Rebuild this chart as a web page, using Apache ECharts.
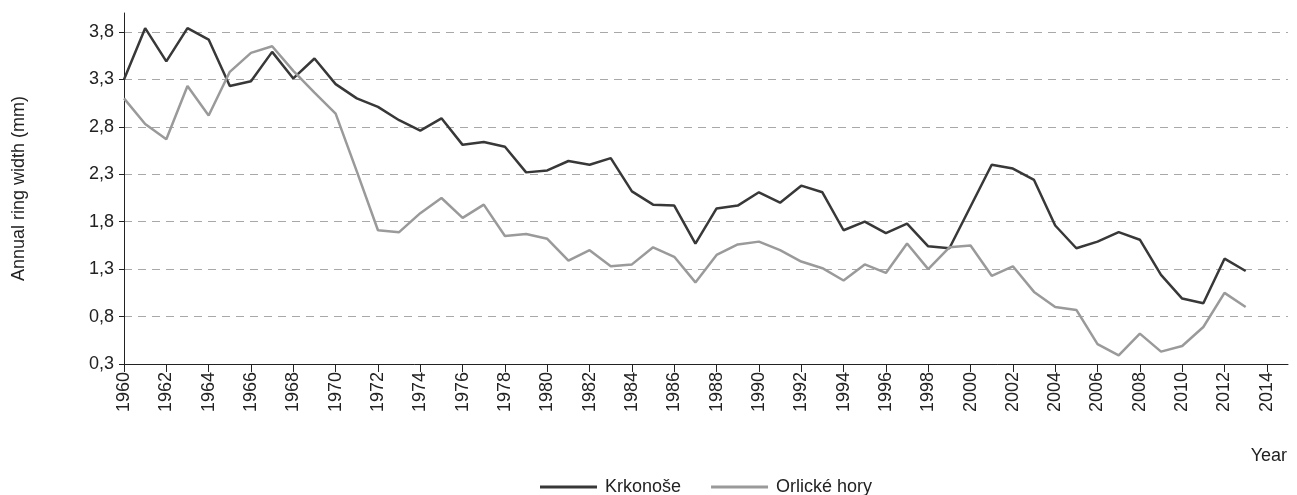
<!DOCTYPE html>
<html>
<head>
<meta charset="utf-8">
<script src="https://cdn.jsdelivr.net/npm/echarts@6/dist/echarts.min.js"></script>
<style>
html,body{margin:0;padding:0;background:#fff;}
#chart{width:1297px;height:495px;}
</style>
</head>
<body>
<div id="chart"></div>
<script>
const years = [];
for (let y = 1960; y <= 2013; y++) years.push(y);

const krkonose = [
  3.30, 3.84, 3.49, 3.84, 3.72, 3.23, 3.28, 3.59, 3.31, 3.52,
  3.25, 3.10, 3.01, 2.87, 2.76, 2.89, 2.61, 2.64, 2.59, 2.32,
  2.34, 2.44, 2.40, 2.47, 2.12, 1.98, 1.97, 1.57, 1.94, 1.97,
  2.11, 2.00, 2.18, 2.11, 1.71, 1.80, 1.68, 1.78, 1.54, 1.52,
  1.96, 2.40, 2.36, 2.24, 1.76, 1.52, 1.59, 1.69, 1.61, 1.24,
  0.99, 0.94, 1.41, 1.28
];
const orlicke = [
  3.10, 2.83, 2.67, 3.23, 2.92, 3.38, 3.58, 3.65, 3.39, 3.16,
  2.94, 2.33, 1.71, 1.69, 1.89, 2.05, 1.84, 1.98, 1.65, 1.67,
  1.62, 1.39, 1.50, 1.33, 1.35, 1.53, 1.43, 1.16, 1.45, 1.56,
  1.59, 1.50, 1.38, 1.31, 1.18, 1.35, 1.26, 1.57, 1.30, 1.53,
  1.55, 1.23, 1.33, 1.06, 0.90, 0.87, 0.51, 0.39, 0.62, 0.43,
  0.49, 0.69, 1.05, 0.90
];
const xTickYears = [];
for (let y = 1960; y <= 2014; y += 2) xTickYears.push(y);
const yTicks = [0.3, 0.8, 1.3, 1.8, 2.3, 2.8, 3.3, 3.8];

const seriesNames = ['Krkonoše', 'Orlické hory'];
const FONT = '"Liberation Sans", Arial, sans-serif';
const TXT = '#222';
const FS = 18;

const chart = echarts.init(document.getElementById('chart'), null, {renderer: 'canvas'});
chart.setOption({
  animation: false,
  backgroundColor: '#fff',
  grid: {left: 124, right: 9, top: 13, bottom: 131, containLabel: false},
  xAxis: {
    type: 'value', min: 1960, max: 2015,
    axisLine: {show: true, lineStyle: {color: '#222', width: 1}},
    axisTick: {show: true, inside: false, length: 8, lineStyle: {color: '#222'}, customValues: xTickYears},
    axisLabel: {
      customValues: xTickYears, rotate: 90, margin: 8,
      color: TXT, fontFamily: FONT, fontSize: FS,
      formatter: v => String(v)
    },
    splitLine: {show: false}
  },
  yAxis: {
    type: 'value', min: 0.3, max: 4.0,
    name: 'Annual ring width (mm)', nameLocation: 'middle', nameGap: 96,
    nameTextStyle: {color: TXT, fontFamily: FONT, fontSize: FS},
    axisLine: {show: true, lineStyle: {color: '#222', width: 1}},
    axisTick: {show: true, length: 5, lineStyle: {color: '#222'}, customValues: yTicks},
    axisLabel: {
      customValues: yTicks, margin: 10, color: TXT, fontFamily: FONT, fontSize: FS,
      formatter: v => v.toFixed(1).replace('.', ',')
    },
    splitLine: {show: true, lineStyle: {color: '#a8a8a8', type: [8, 6], width: 1}}
  },
  legend: {
    left: 540, top: 478, padding: 0, itemGap: 30, itemWidth: 57, itemHeight: 3,
    icon: 'rect',
    textStyle: {color: TXT, fontFamily: FONT, fontSize: FS, padding: [0, 0, 0, 3]},
    data: seriesNames
  },
  graphic: [{
    type: 'text', right: 10, top: 447,
    style: {text: 'Year', fill: TXT, font: FS + 'px "Liberation Sans", Arial, sans-serif'}
  }],
  series: [
    {
      name: seriesNames[0], type: 'line', showSymbol: false, symbol: 'none',
      data: years.map((y, i) => [y, krkonose[i]]),
      lineStyle: {color: '#383838', width: 2.5}, itemStyle: {color: '#383838'}
    },
    {
      name: seriesNames[1], type: 'line', showSymbol: false, symbol: 'none',
      data: years.map((y, i) => [y, orlicke[i]]),
      lineStyle: {color: '#9a9a9a', width: 2.5}, itemStyle: {color: '#9a9a9a'}
    }
  ]
});
</script>
</body>
</html>
